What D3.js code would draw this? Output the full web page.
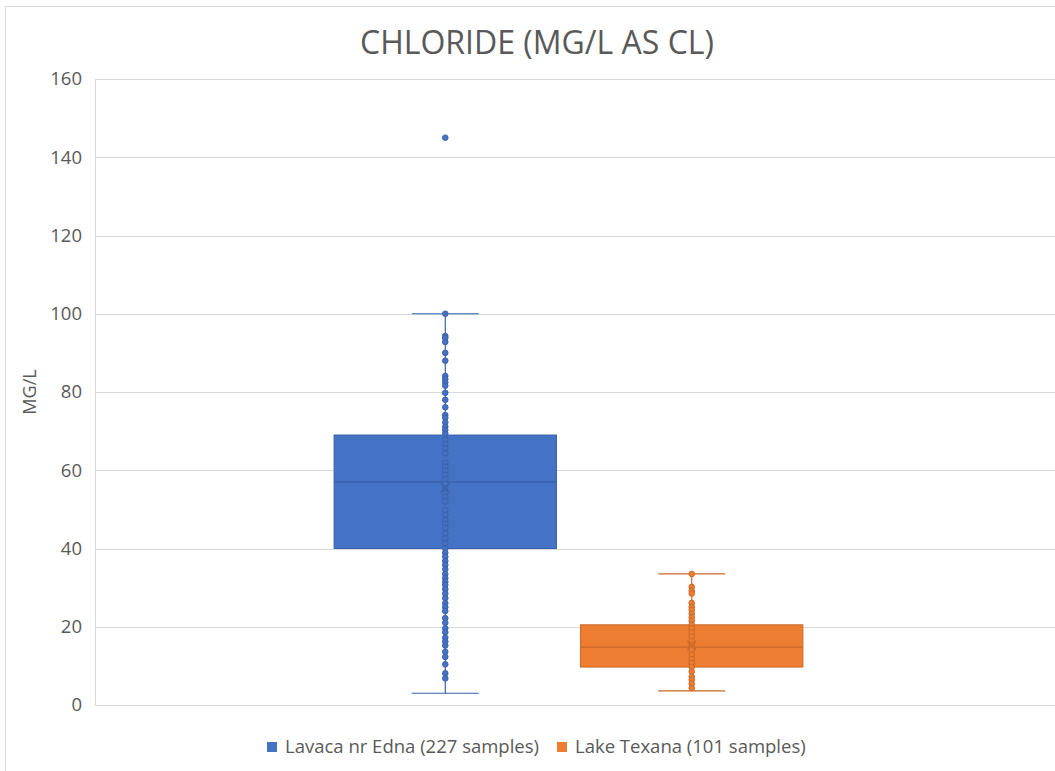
<!DOCTYPE html>
<html><head><meta charset="utf-8">
<script src="https://cdn.jsdelivr.net/npm/d3@7"></script>
<style>body{margin:0;background:#fff;}svg{display:block;}</style>
</head><body>
<svg id="c" width="1055" height="771"></svg>
<script>
const title = "CHLORIDE (MG/L AS CL)";
const yTitle = "MG/L";
const categories = ["Chloride"];
const seriesNames = ["Lavaca nr Edna (227 samples)", "Lake Texana (101 samples)"];
const seriesColors = ["#4472C4", "#ED7D31"];
const seriesStroke = ["#3A62AC", "#C9692A"];
const yTicks = [0, 20, 40, 60, 80, 100, 120, 140, 160];
// box stats: [whiskerLow, q1, median, q3, whiskerHigh, mean]
const lavacaStats = [3, 40, 57, 69, 100, 55.5];
const texanaStats = [3.6, 9.7, 14.8, 20.5, 33.5, 15.2];
const lavacaOutliers = [145];
const texanaOutliers = [];
const lavacaPoints = [100, 94.3, 93.8, 92.8, 90, 88, 84.1, 83.3, 82.5, 81.6, 79.8, 78, 76.1, 74.1, 73.4, 72.2, 71.1, 70.3, 69.4,
  67.9, 66.7, 65.6, 64.3, 61.9, 60.9, 59.9, 58.8, 57.7, 56.5, 55.4, 54.1, 53.2, 52, 49.8, 48.6, 47.3, 46.3, 45.2, 43.9, 42.6, 41.3, 40,
  38.9, 37.9, 36.8, 35.8, 34.7, 33.5, 32.4, 31.5, 30.7, 29.6, 28.5, 27.3, 26, 25, 24, 22.2, 21, 19.6, 18.6, 17.2, 16.2, 15.2, 13.6, 12.3, 10.4, 8.1, 6.8];
const texanaPoints = [33.5, 30.2, 29.2, 28.5, 26.1, 25.1, 24.3, 23.3, 22.4, 21.5, 20.5, 19.6, 18.5, 17.5, 16.4, 15.3, 14.1, 12.8, 11.7, 10.7, 9.7, 8.5, 7.2, 6.4, 5.4, 4.3];

const stats = [lavacaStats, texanaStats];
const outliers = [lavacaOutliers, texanaOutliers];
const points = [lavacaPoints, texanaPoints];

const svg = d3.select("#c");
const textColor = "#595959";
const font = "'Open Sans', 'Noto Sans', sans-serif";

// outer border
svg.append("rect").attr("x", 5.5).attr("y", 6.5).attr("width", 1200).attr("height", 900)
  .attr("fill", "none").attr("stroke", "#d9d9d9").attr("stroke-width", 1);

const plotL = 95, plotR = 1042, plotT = 79, plotB = 705;
const y = d3.scaleLinear().domain([0, 160]).range([plotB, plotT]);
const xOuter = d3.scaleBand().domain(categories).range([plotL, plotR]).paddingOuter(0.51).paddingInner(0);
const xInner = d3.scaleBand().domain(seriesNames).range([0, xOuter.bandwidth()]).paddingInner(0.0976).paddingOuter(0);

// gridlines
svg.append("g").selectAll("line").data(yTicks).join("line")
  .attr("x1", plotL).attr("x2", 1055)
  .attr("y1", d => Math.round(y(d)) + 0.5).attr("y2", d => Math.round(y(d)) + 0.5)
  .attr("stroke", "#d9d9d9").attr("stroke-width", 1);
svg.append("line").attr("x1", plotL + 0.5).attr("x2", plotL + 0.5).attr("y1", y(160)).attr("y2", y(0))
  .attr("stroke", "#d9d9d9");

// y axis labels
const yAxis = d3.axisLeft(y).tickValues(yTicks).tickSize(0).tickPadding(13);
const ga = svg.append("g").attr("transform", `translate(${plotL},0)`).call(yAxis);
ga.select(".domain").remove();
ga.selectAll("text").attr("fill", textColor).style("font-family", font).style("font-size", "18.5px");

// y title
svg.append("text").attr("transform", `translate(36,${(plotT + plotB) / 2}) rotate(-90)`)
  .attr("text-anchor", "middle").attr("fill", textColor)
  .style("font-family", font).style("font-size", "18px").text(yTitle);

// title
svg.append("text").attr("x", 537).attr("y", 54).attr("text-anchor", "middle")
  .attr("fill", textColor).style("font-family", font).style("font-size", "32px").text(title);

// boxes
seriesNames.forEach((name, i) => {
  const [wl, q1, med, q3, wh, mean] = stats[i];
  const x0 = xOuter(categories[0]) + xInner(name);
  const bw = xInner.bandwidth();
  const cx = x0 + bw / 2;
  const capW = 67;
  const g = svg.append("g");
  const col = seriesColors[i], sc = seriesStroke[i];
  g.append("line").attr("x1", cx).attr("x2", cx).attr("y1", y(wh)).attr("y2", y(q3)).attr("stroke", sc).attr("stroke-width", 1.2);
  g.append("line").attr("x1", cx).attr("x2", cx).attr("y1", y(q1)).attr("y2", y(wl)).attr("stroke", sc).attr("stroke-width", 1.2);
  g.append("line").attr("x1", cx - capW / 2).attr("x2", cx + capW / 2).attr("y1", y(wh)).attr("y2", y(wh)).attr("stroke", sc).attr("stroke-width", 1.2);
  g.append("line").attr("x1", cx - capW / 2).attr("x2", cx + capW / 2).attr("y1", y(wl)).attr("y2", y(wl)).attr("stroke", sc).attr("stroke-width", 1.2);
  g.append("rect").attr("x", x0).attr("y", y(q3)).attr("width", bw).attr("height", y(q1) - y(q3))
    .attr("fill", col).attr("stroke", sc).attr("stroke-width", 1);
  g.append("line").attr("x1", x0).attr("x2", x0 + bw).attr("y1", y(med)).attr("y2", y(med)).attr("stroke", sc).attr("stroke-width", 1.3);
  g.append("g").selectAll("circle").data(points[i]).join("circle")
    .attr("cx", cx).attr("cy", d => y(d)).attr("r", 2.8)
    .attr("fill", col).attr("stroke", sc).attr("stroke-width", 1);
  g.append("g").selectAll("circle").data(outliers[i]).join("circle")
    .attr("cx", cx).attr("cy", d => y(d)).attr("r", 2.8)
    .attr("fill", col).attr("stroke", sc).attr("stroke-width", 1);
  const my = y(mean), s = 4.5;
  g.append("path").attr("d", `M${cx - s},${my - s}L${cx + s},${my + s}M${cx - s},${my + s}L${cx + s},${my - s}`)
    .attr("stroke", sc).attr("stroke-width", 1.3).attr("fill", "none");
});

// legend
const legY = 747;
const leg = svg.append("g");
const legX = [267, 557];
seriesNames.forEach((name, i) => {
  leg.append("rect").attr("x", legX[i]).attr("y", legY - 5).attr("width", 10).attr("height", 10).attr("fill", seriesColors[i]);
  leg.append("text").attr("x", legX[i] + 18).attr("y", legY).attr("dy", "0.35em")
    .attr("fill", textColor).style("font-family", font).style("font-size", "18.5px").text(name);
});
</script>
</body></html>
